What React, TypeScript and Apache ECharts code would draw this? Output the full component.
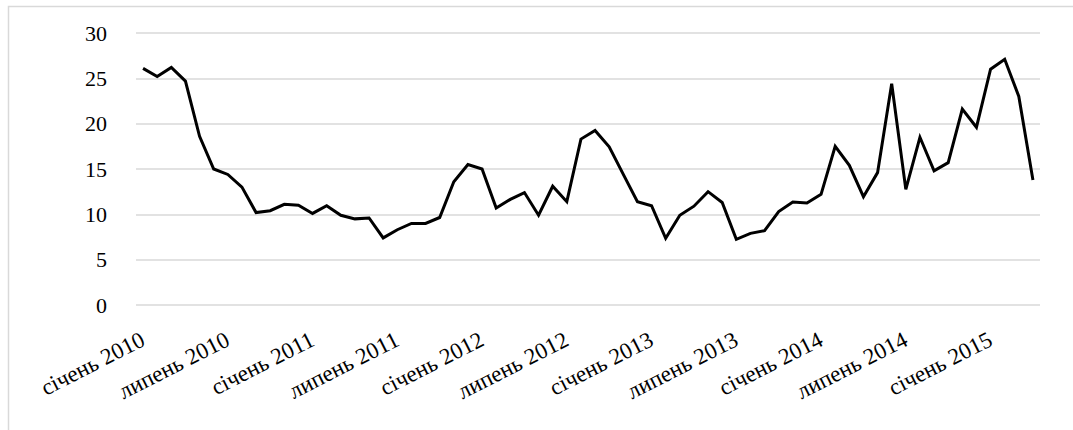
import React, { useEffect, useRef } from "react";
import * as echarts from "echarts";

const monthNames = [
  "січень", "лютий", "березень", "квітень", "травень", "червень",
  "липень", "серпень", "вересень", "жовтень", "листопад", "грудень",
];
const years = [2010, 2011, 2012, 2013, 2014, 2015];
const monthCount = 64; // січень 2010 – квітень 2015

const values = [
  26.1, 25.2, 26.2, 24.7, 18.6, 15.0, 14.4, 13.0, 10.2, 10.4, 11.1, 11.0,
  10.1, 10.95, 9.9, 9.5, 9.6, 7.4, 8.3, 9.0, 9.0, 9.65, 13.6, 15.5,
  15.0, 10.7, 11.65, 12.4, 9.9, 13.1, 11.4, 18.3, 19.25, 17.45, 14.4, 11.4,
  10.95, 7.35, 9.9, 10.9, 12.5, 11.3, 7.25, 7.9, 8.2, 10.3, 11.35, 11.25,
  12.2, 17.5, 15.4, 11.95, 14.6, 24.4, 12.75, 18.5, 14.8, 15.7, 21.6, 19.6,
  26.0, 27.1, 23.0, 13.8,
];

const yTicks = { min: 0, max: 30, interval: 5 };

const categories: string[] = [];
for (const y of years) {
  for (const m of monthNames) {
    if (categories.length < monthCount) categories.push(`${m} ${y}`);
  }
}

export default function App() {
  const ref = useRef<HTMLDivElement>(null);
  useEffect(() => {
    document.body.style.margin = "0";
    const chart = echarts.init(ref.current!, null, { renderer: "svg" });
    const font = "Liberation Serif";
    chart.setOption({
      animation: false,
      backgroundColor: "#ffffff",
      textStyle: { fontFamily: font },
      graphic: [
        {
          type: "rect",
          shape: { x: 8.5, y: 6.5, width: 1200, height: 600 },
          style: { fill: "none", stroke: "#d9d9d9", lineWidth: 1.5 },
          silent: true,
        },
      ],
      grid: { left: 136, right: 33, top: 33, bottom: 125, containLabel: false },
      xAxis: {
        type: "category",
        data: categories,
        boundaryGap: true,
        axisLine: { show: false },
        axisTick: { show: false },
        axisLabel: {
          interval: 5,
          rotate: 27,
          margin: 33,
          fontFamily: font,
          fontSize: 23,
          color: "#000",
        },
        splitLine: { show: false },
      },
      yAxis: {
        type: "value",
        min: yTicks.min,
        max: yTicks.max,
        interval: yTicks.interval,
        axisLine: { show: false },
        axisTick: { show: false },
        axisLabel: {
          margin: 29,
          fontFamily: font,
          fontSize: 22,
          color: "#000",
        },
        splitLine: { lineStyle: { color: "#d9d9d9", width: 1.5 } },
      },
      series: [
        {
          type: "line",
          data: values,
          showSymbol: false,
          symbol: "none",
          lineStyle: { color: "#000", width: 3, join: "miter" },
        },
      ],
    });
    return () => chart.dispose();
  }, []);
  return <div ref={ref} style={{ width: 1073, height: 430 }} />;
}
